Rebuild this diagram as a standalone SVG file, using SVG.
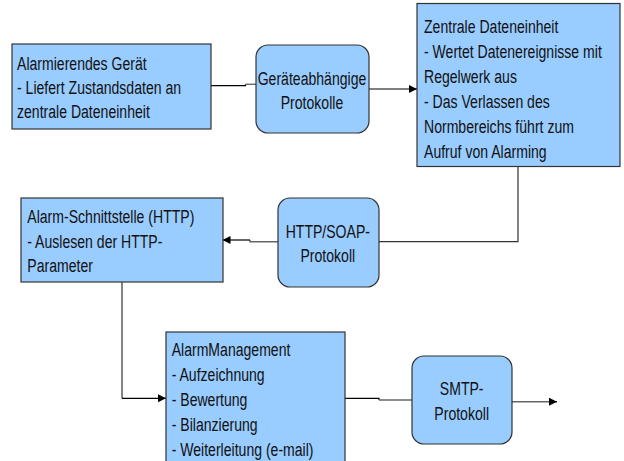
<svg xmlns="http://www.w3.org/2000/svg" width="624" height="461" viewBox="0 0 624 461">
<style>
.box{fill:#99ccff;stroke:#333333;stroke-width:1.2}
.t{font-family:"Liberation Sans",Arial,sans-serif;font-size:19px;fill:#111111}
.c{text-anchor:middle}
.k{fill:none;stroke:#000000;stroke-width:1.2}
.g{fill:none;stroke:#666666;stroke-width:1.4}
.d{fill:none;stroke:#333333;stroke-width:1.2}
</style>
<defs>
<marker id="ah" markerUnits="userSpaceOnUse" markerWidth="9" markerHeight="9" refX="8" refY="4" orient="auto">
<path d="M0,0 L8,4 L0,8 Z" fill="#000000"/>
</marker>
</defs>
<rect width="624" height="461" fill="#ffffff"/>
<g id="connectors">
<path class="k" d="M211 85.7 H245.5 V84.3"/>
<path class="g" d="M245.5 84.3 H256"/>
<path class="k" d="M369 89 H417" marker-end="url(#ah)"/>
<path class="d" d="M518 167 V241.7 H379"/>
<path class="g" d="M278 241.7 H250 V240"/>
<path class="k" d="M250 240 H222.5" marker-end="url(#ah)"/>
<path class="d" d="M122 282 V398.3"/>
<path class="k" d="M122 398.3 H166" marker-end="url(#ah)"/>
<path class="k" d="M345 398.3 H379 V400"/>
<path class="g" d="M379 400 H412"/>
<path class="g" d="M512 401.7 H550"/>
<path class="k" d="M549 401.7 H557" marker-end="url(#ah)"/>
</g>
<g id="node-geraet">
<rect class="box" x="12" y="44" width="199" height="85"/>
<g transform="scale(0.74 1)" class="t">
<text x="23" y="70.5">Alarmierendes Gerät</text>
<text x="23" y="94.3">- Liefert Zustandsdaten an</text>
<text x="23" y="118">zentrale Dateneinheit</text>
</g>
</g>
<g id="node-protokolle">
<rect class="box" x="256" y="45" width="113" height="88" rx="12"/>
<g transform="scale(0.74 1)" class="t c">
<text x="421.6" y="85">Geräteabhängige</text>
<text x="421.6" y="109.5">Protokolle</text>
</g>
</g>
<g id="node-zentrale">
<rect class="box" x="417" y="3.5" width="203" height="163"/>
<g transform="scale(0.74 1)" class="t">
<text x="573" y="33.3">Zentrale Dateneinheit</text>
<text x="573" y="58.3">- Wertet Datenereignisse mit</text>
<text x="573" y="83.3">Regelwerk aus</text>
<text x="573" y="108.3">- Das Verlassen des</text>
<text x="573" y="133.3">Normbereichs führt zum</text>
<text x="573" y="158">Aufruf von Alarming</text>
</g>
</g>
<g id="node-soap">
<rect class="box" x="278" y="198" width="101" height="89" rx="12"/>
<g transform="scale(0.74 1)" class="t c">
<text x="443" y="237.7">HTTP/SOAP-</text>
<text x="443" y="261.7">Protokoll</text>
</g>
</g>
<g id="node-schnittstelle">
<rect class="box" x="21" y="198" width="202" height="84"/>
<g transform="scale(0.74 1)" class="t">
<text x="36.9" y="223.5">Alarm-Schnittstelle (HTTP)</text>
<text x="36.9" y="248">- Auslesen der HTTP-</text>
<text x="36.9" y="272.5">Parameter</text>
</g>
</g>
<g id="node-alarmmanagement">
<rect class="box" x="166" y="332" width="179" height="140"/>
<g transform="scale(0.74 1)" class="t">
<text x="232" y="356.5">AlarmManagement</text>
<text x="232" y="381.3">- Aufzeichnung</text>
<text x="232" y="406">- Bewertung</text>
<text x="232" y="430.8">- Bilanzierung</text>
<text x="232" y="455.6">- Weiterleitung (e-mail)</text>
</g>
</g>
<g id="node-smtp">
<rect class="box" x="412" y="356" width="100" height="88" rx="12"/>
<g transform="scale(0.74 1)" class="t c">
<text x="623.9" y="395">SMTP-</text>
<text x="623.9" y="420">Protokoll</text>
</g>
</g>
</svg>
